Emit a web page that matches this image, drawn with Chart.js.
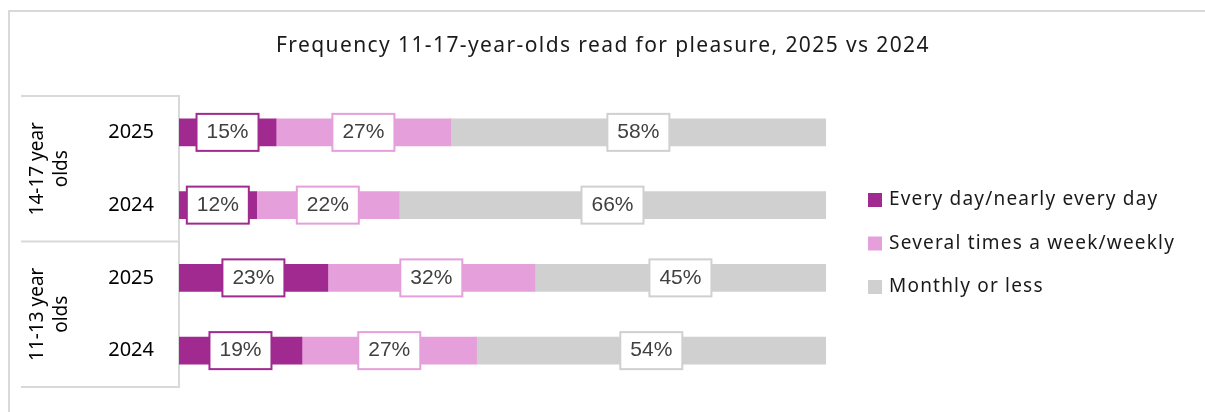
<!DOCTYPE html>
<html>
<head>
<meta charset="utf-8">
<script src="https://cdn.jsdelivr.net/npm/chart.js@4"></script>
<style>
  html, body { margin: 0; padding: 0; background: #fff; }
  canvas { display: block; }
</style>
</head>
<body>
<canvas id="chart" width="1205" height="412"></canvas>
<script>
// reading frequency by age group and survey year (percent of respondents)
var years = ['2025', '2024', '2025', '2024'];
var ageGroups = [['14-17 year', 'olds'], ['11-13 year', 'olds']];
var seriesNames = ['Every day/nearly every day', 'Several times a week/weekly', 'Monthly or less'];
var everyDay = [15, 12, 23, 19];
var weekly = [27, 22, 32, 27];
var monthly = [58, 66, 45, 54];

var plum = '#A02A90',
    pink = '#E5A0DB',
    grey = '#D0D0D0',
    rule = '#D9D9D9';
var font = '"Noto Sans", sans-serif';
var titleText = 'Frequency 11-17-year-olds read for pleasure, 2025 vs 2024';

// frame, title, group table and rotated age group labels
var decorations = {
    id: 'decorations',
    beforeDraw: function (chart) {
        var ctx = chart.ctx, area = chart.chartArea, y = chart.scales.y;
        ctx.save();
        ctx.strokeStyle = rule;
        ctx.lineWidth = 2;
        ctx.beginPath();
        ctx.moveTo(9, chart.height);
        ctx.lineTo(9, 11);
        ctx.lineTo(chart.width, 11);
        ctx.stroke();

        ctx.fillStyle = '#1a1a1a';
        ctx.font = '21px ' + font;
        ctx.letterSpacing = '1.4px';
        ctx.textAlign = 'center';
        ctx.textBaseline = 'middle';
        ctx.fillText(titleText, 603, 46);
        ctx.letterSpacing = '0px';

        var mid = (y.getPixelForValue(1) + y.getPixelForValue(2)) / 2;
        ctx.beginPath();
        [area.top, mid, area.bottom].forEach(function (py) {
            ctx.moveTo(21, py);
            ctx.lineTo(area.left, py);
        });
        ctx.stroke();

        ctx.fillStyle = '#000';
        ctx.font = '19px ' + font;
        ageGroups.forEach(function (lines, g) {
            var cy = (y.getPixelForValue(g * 2) + y.getPixelForValue(g * 2 + 1)) / 2;
            ctx.save();
            ctx.translate(50, cy);
            ctx.rotate(-Math.PI / 2);
            ctx.fillText(lines[0], 0, -12);
            ctx.fillText(lines[1], 0, 12);
            ctx.restore();
        });
        ctx.restore();
    },
    // boxed percentage labels centred on each segment
    afterDatasetsDraw: function (chart) {
        var ctx = chart.ctx;
        ctx.save();
        ctx.font = '21px "Liberation Sans", Arial, sans-serif';
        ctx.textAlign = 'center';
        ctx.textBaseline = 'middle';
        chart.data.datasets.forEach(function (ds, i) {
            chart.getDatasetMeta(i).data.forEach(function (bar, j) {
                var p = bar.getProps(['x', 'y', 'base'], true);
                var cx = (p.x + p.base) / 2, w = 62, h = 37;
                ctx.fillStyle = '#fff';
                ctx.fillRect(cx - w / 2, p.y - h / 2, w, h);
                ctx.strokeStyle = ds.backgroundColor;
                ctx.lineWidth = 2;
                ctx.strokeRect(cx - w / 2, p.y - h / 2, w, h);
                ctx.fillStyle = '#404040';
                ctx.fillText(ds.data[j] + '%', cx, p.y);
            });
        });
        ctx.restore();
    },
    afterDraw: function (chart) {
        var ctx = chart.ctx;
        ctx.save();
        ctx.font = '19px ' + font;
        ctx.letterSpacing = '1.2px';
        ctx.textBaseline = 'middle';
        chart.data.datasets.forEach(function (ds, i) {
            var ly = 200 + i * 43.5;
            ctx.fillStyle = ds.backgroundColor;
            ctx.fillRect(868, ly - 7, 14, 14);
            ctx.fillStyle = '#1a1a1a';
            ctx.fillText(ds.label, 889, ly);
        });
        ctx.restore();
    }
};

new Chart(document.getElementById('chart'), {
    type: 'bar',
    data: {
        labels: years,
        datasets: [
            { label: seriesNames[0], data: everyDay, backgroundColor: plum },
            { label: seriesNames[1], data: weekly, backgroundColor: pink },
            { label: seriesNames[2], data: monthly, backgroundColor: grey }
        ]
    },
    options: {
        indexAxis: 'y',
        responsive: false,
        animation: false,
        devicePixelRatio: 1,
        datasets: { bar: { barThickness: 27, borderWidth: 0 } },
        layout: { padding: { left: 21, right: 379, top: 96, bottom: 25 } },
        scales: {
            x: { stacked: true, display: false, min: 0, max: 100 },
            y: {
                stacked: true,
                grid: { display: false, drawTicks: false },
                border: { color: rule, width: 2 },
                ticks: { color: '#000', font: { family: font, size: 20 }, padding: 25 },
                afterFit: function (scale) {
                    scale.width = 158;
                    scale.paddingTop = 0;
                    scale.paddingBottom = 0;
                }
            }
        },
        plugins: {
            legend: { display: false },
            tooltip: { enabled: false }
        }
    },
    plugins: [decorations]
});
</script>
</body>
</html>
